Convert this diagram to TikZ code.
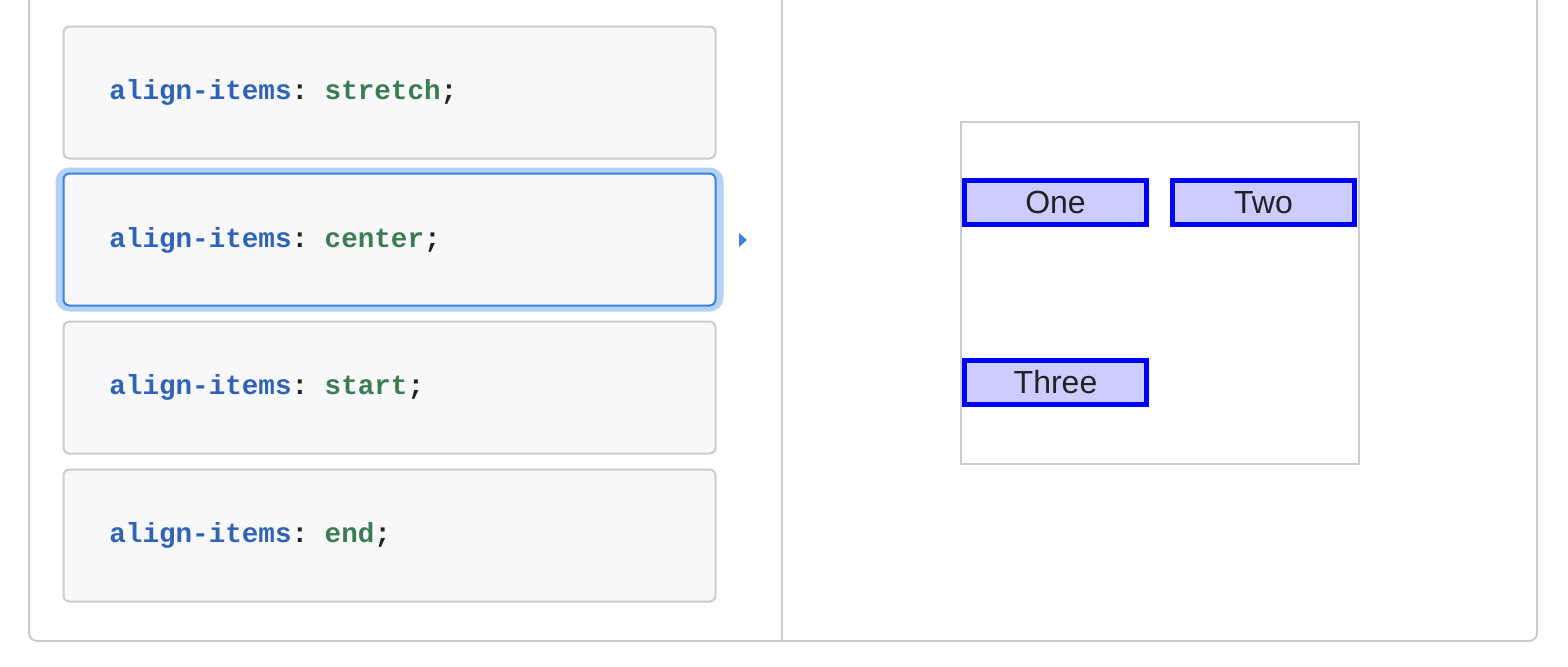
\documentclass[tikz,border=0pt]{standalone}
\usepackage{fontspec}
\setmainfont{Liberation Sans}
\setmonofont{Liberation Mono}
\usetikzlibrary{positioning}
\definecolor{framegray}{HTML}{CCCCCC}
\definecolor{boxfill}{HTML}{F8F8FA}
\definecolor{selblue}{HTML}{3B82E0}
\definecolor{halo}{HTML}{B3D2F6}
\definecolor{propblue}{HTML}{2F63B8}
\definecolor{valgreen}{HTML}{3A7D52}
\definecolor{punct}{HTML}{222222}
\definecolor{itemfill}{HTML}{CCCCFF}
\definecolor{itemblue}{HTML}{0000FF}
\tikzset{
  codebox/.style={draw=framegray, fill=boxfill, line width=1pt, rounded corners=3pt,
    minimum width=326pt, minimum height=66pt, inner sep=0pt},
  codetext/.style={anchor=west, inner sep=0pt, font=\ttfamily\bfseries\fontsize{13.8}{16}\selectfont},
  flexitem/.style={draw=itemblue, fill=itemfill, line width=2.75pt,
    minimum width=91pt, minimum height=22pt, inner sep=0pt,
    text=punct, font=\fontsize{16}{18}\selectfont},
}
\newcommand{\cssline}[1]{\textcolor{propblue}{align-items}\textcolor{punct}{:} \textcolor{valgreen}{#1}\textcolor{punct}{;}}
\begin{document}
\begin{tikzpicture}[x=0.5pt, y=-0.5pt]
  \useasboundingbox (0,0) rectangle (1568,666);
  % outer frame
  \draw[framegray, line width=1pt, rounded corners=4pt] (29,-20) -- (29,641) -- (1537,641) -- (1537,-20);
  \draw[framegray, line width=1pt] (782,-20) -- (782,641);

  % code boxes
  \node[codebox] (B1) at (389.5,92.5) {};
  \node[codebox, draw=halo, line width=4pt, rounded corners=5pt, minimum width=330pt, minimum height=68pt] (H2) at (389.5,239.5) {};
  \node[codebox, draw=selblue] (B2) at (389.5,239.5) {};
  \node[codebox] (B3) at (389.5,387.5) {};
  \node[codebox] (B4) at (389.5,535.5) {};

  \node[codetext] (T1) at (109,92) {\cssline{stretch}};
  \node[codetext] (T2) at (109,240) {\cssline{center}};
  \node[codetext] (T3) at (109,387) {\cssline{start}};
  \node[codetext] (T4) at (109,535) {\cssline{end}};

  % selection marker
  \fill[selblue] (739,233) -- (747,240) -- (739,247) -- cycle;

  % flex container
  \node[draw=framegray, line width=1pt, minimum width=199pt, minimum height=171pt, inner sep=0pt] (C) at (1160,293) {};
  \node[flexitem] (One) at (1055.5,202.5) {One};
  \node[flexitem] (Two) at (1263.5,202.5) {Two};
  \node[flexitem] (Three) at (1055.5,382.5) {Three};
\end{tikzpicture}
\end{document}
